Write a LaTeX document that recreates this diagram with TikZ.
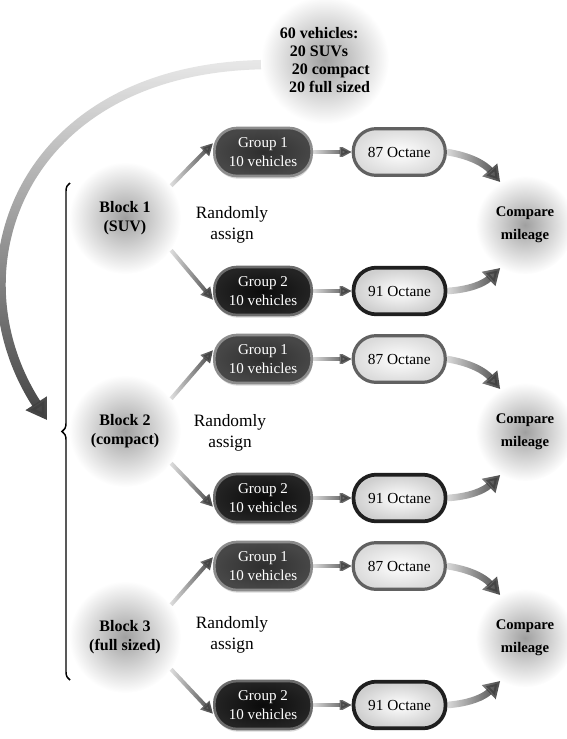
\documentclass[tikz,border=0pt]{standalone}
\usepackage{fontspec}
\setmainfont{Liberation Serif}
\usetikzlibrary{arrows.meta, positioning, shadows, fadings, decorations.pathreplacing}

\tikzfading[name=fadein, left color=transparent!85, right color=transparent!0]
\tikzfading[name=fadedown, top color=transparent!88, bottom color=transparent!0]

\begin{document}
\begin{tikzpicture}[
  x=0.75pt, y=-0.75pt,
  blob/.style={circle, minimum size=84pt, inner color=gray!75, outer color=white, align=center, font=\fontsize{12}{14}\selectfont\bfseries},
  compare/.style={blob, minimum size=74pt, font=\fontsize{11}{17}\selectfont\bfseries},
  group/.style={rectangle, rounded corners=17pt, minimum width=73pt, minimum height=36pt, inner color=black!82, outer color=black!72, draw=black!45, line width=2pt, text=white, align=center, font=\fontsize{11.3}{14}\selectfont, drop shadow={shadow xshift=0.5pt, shadow yshift=-2pt, opacity=0.3}},
  group2/.style={group, inner color=black!96, outer color=black!86, draw=black!58},
  octane/.style={rectangle, rounded corners=17pt, minimum width=69pt, minimum height=35pt, inner color=white, outer color=gray!28, draw=black!62, line width=2.4pt, font=\fontsize{11.5}{14}\selectfont},
  octane2/.style={octane, outer color=gray!38, draw=black!88, line width=2.8pt},
  assign/.style={align=center, font=\fontsize{13}{16}\selectfont},
  edge/.style={-{Triangle[length=9pt, width=9pt]}, line width=3pt, black!75, path fading=fadein},
  sweep/.style={-{Triangle[length=12pt, width=14pt]}, line width=5pt, black!75, path fading=fadein},
  bracket/.style={decorate, decoration={brace, amplitude=6pt}, line width=1.1pt}
]
\useasboundingbox (0,0) rectangle (567,739);

\node[blob, minimum size=96pt, align=left, font=\fontsize{12}{13.3}\selectfont\bfseries] (all) at (325,60)
  {60 vehicles:\\\hspace*{7.5pt}20 SUVs\\\hspace*{9pt}20 compact\\\hspace*{7pt}20 full sized};

\node[blob] (b1) at (125,218) {Block 1\\(SUV)};
\node[assign] (r1) at (232,225) {Randomly\\assign};
\node[group] (g11) at (263,152) {Group 1\\10 vehicles};
\node[group2] (g12) at (263,291) {Group 2\\10 vehicles};
\node[octane, right=29pt of g11] (o11) {87 Octane};
\node[octane2, right=29pt of g12] (o12) {91 Octane};
\node[compare] (c1) at (525,225) {Compare\\mileage};

\node[blob] (b2) at (125,431) {Block 2\\(compact)};
\node[assign] (r2) at (230,433) {Randomly\\assign};
\node[group] (g21) at (263,359) {Group 1\\10 vehicles};
\node[group2] (g22) at (263,498) {Group 2\\10 vehicles};
\node[octane, right=29pt of g21] (o21) {87 Octane};
\node[octane2, right=29pt of g22] (o22) {91 Octane};
\node[compare] (c2) at (525,432) {Compare\\mileage};

\node[blob] (b3) at (125,637) {Block 3\\(full sized)};
\node[assign] (r3) at (232,635) {Randomly\\assign};
\node[group] (g31) at (263,566) {Group 1\\10 vehicles};
\node[group2] (g32) at (263,705) {Group 2\\10 vehicles};
\node[octane, right=29pt of g31] (o31) {87 Octane};
\node[octane2, right=29pt of g32] (o32) {91 Octane};
\node[compare] (c3) at (525,638) {Compare\\mileage};

\coordinate (tip) at (47,420);

\draw[bracket] (70,680) -- (70,183);
\draw[-{Triangle[length=15pt, width=18pt]}, line width=7pt, black!75, path fading=fadedown]
  (all.184) .. controls (20,70) and (-50,270) .. (tip);

\draw[edge] (b1.35) -- (g11.170);
\draw[edge] (b1.-35) -- (g12.190);
\draw[edge] (g11) -- (o11);
\draw[edge] (g12) -- (o12);
\draw[sweep] (o11.east) to[bend left=20] (c1.120);
\draw[sweep] (o12.east) to[bend right=20] (c1.240);

\draw[edge] (b2.35) -- (g21.170);
\draw[edge] (b2.-35) -- (g22.190);
\draw[edge] (g21) -- (o21);
\draw[edge] (g22) -- (o22);
\draw[sweep] (o21.east) to[bend left=20] (c2.120);
\draw[sweep] (o22.east) to[bend right=20] (c2.240);

\draw[edge] (b3.35) -- (g31.170);
\draw[edge] (b3.-35) -- (g32.190);
\draw[edge] (g31) -- (o31);
\draw[edge] (g32) -- (o32);
\draw[sweep] (o31.east) to[bend left=20] (c3.120);
\draw[sweep] (o32.east) to[bend right=20] (c3.240);
\end{tikzpicture}
\end{document}
